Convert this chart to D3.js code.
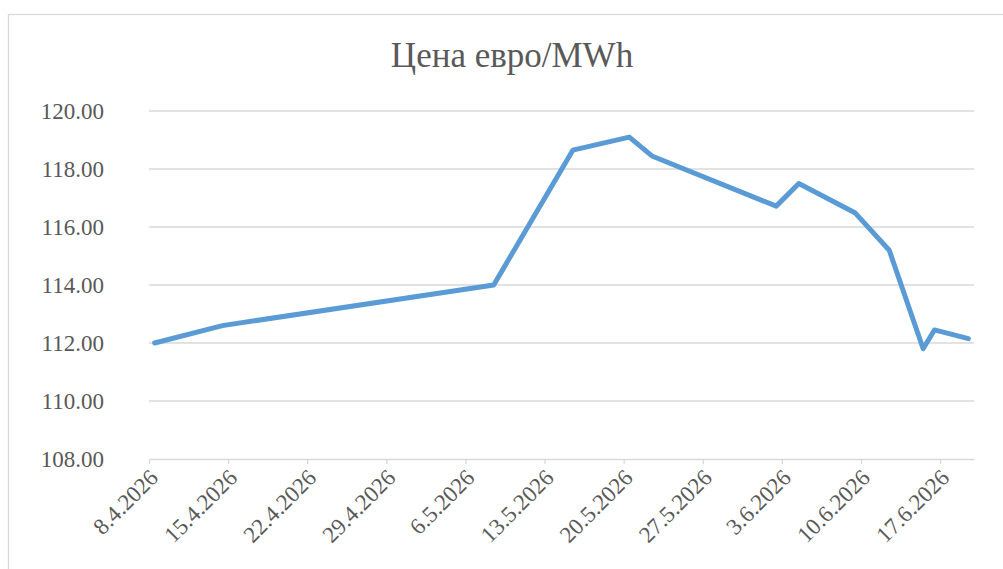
<!DOCTYPE html>
<html>
<head>
<meta charset="utf-8">
<script src="https://cdn.jsdelivr.net/npm/d3@7"></script>
<style>
body{margin:0;background:#fff;}
</style>
</head>
<body>
<div id="chart"></div>
<script>
// price data
let dates=["8.4.2026","14.4.2026","8.5.2026","15.5.2026","20.5.2026","22.5.2026","2.6.2026","4.6.2026","9.6.2026","12.6.2026","15.6.2026","16.6.2026","19.6.2026"];
let prices=[112.0,112.6,114.0,118.65,119.1,118.45,116.72,117.5,116.48,115.2,111.8,112.45,112.15];
let yTicks=[108,110,112,114,116,118,120];
let title="Цена евро/MWh";

let width=1003, height=569;
let plotLeft=149, plotRight=974, plotTop=111, plotBottom=459;
let serif="'Liberation Serif', 'Times New Roman', 'DejaVu Serif', serif";

function parseDate(s){
    let p=s.split(".");
    return new Date(Date.UTC(+p[2],+p[1]-1,+p[0]));
}

let data=dates.map(function(d,i){ return {date:parseDate(d),value:prices[i]}; });

let start=parseDate("8.4.2026");
let end=parseDate("20.6.2026");

let svg=d3.select("#chart").append("svg")
.attr("width",width)
.attr("height",height);

// chart border
svg.append("rect")
.attr("x",8.5).attr("y",14.5)
.attr("width",width).attr("height",height)
.attr("fill","#fff").attr("stroke","#d9d9d9").attr("stroke-width",1.3);

let x=d3.scaleUtc().domain([start,end]).range([plotLeft,plotRight]);
let y=d3.scaleLinear().domain([108,120]).range([plotBottom,plotTop]);

svg.append("text").text(title)
.attr("x",512).attr("y",67)
.attr("text-anchor","middle")
.attr("fill","#595959")
.style("font-family",serif)
.style("font-size","35px");

// gridlines
svg.append("g").selectAll("line")
.data(yTicks.slice(1))
.enter().append("line")
.attr("x1",plotLeft).attr("x2",plotRight)
.attr("y1",function(d){return y(d);}).attr("y2",function(d){return y(d);})
.attr("stroke","#d9d9d9").attr("stroke-width",1.3);

let yAxis=d3.axisLeft(y).tickValues(yTicks).tickFormat(d3.format(".2f")).tickSize(0).tickPadding(45);
let yg=svg.append("g").attr("transform","translate("+plotLeft+",0)").call(yAxis);
yg.select(".domain").remove();
yg.selectAll("text")
.attr("fill","#595959")
.style("font-family",serif)
.style("font-size","23px");

let xTicks=d3.utcDay.range(start,end,7);
let xAxis=d3.axisBottom(x).tickValues(xTicks).tickFormat(d3.utcFormat("%-d.%-m.%Y")).tickSizeInner(5).tickSizeOuter(0);
let xg=svg.append("g").attr("transform","translate(0,"+plotBottom+")").call(xAxis);
xg.select(".domain").attr("stroke","#d9d9d9").attr("stroke-width",1.3);
xg.selectAll(".tick line").attr("stroke","#d9d9d9").attr("stroke-width",1.3);
xg.selectAll(".tick text")
.attr("y",0).attr("dy",0)
.attr("text-anchor","end")
.attr("transform","translate(10,20) rotate(-45)")
.attr("fill","#595959")
.style("font-family",serif)
.style("font-size","23px");

// points sit in the middle of their day
let line=d3.line()
.x(function(d){return x(d3.utcHour.offset(d.date,12));})
.y(function(d){return y(d.value);});

svg.append("path")
.datum(data)
.attr("d",line)
.attr("fill","none")
.attr("stroke","#5b9bd5")
.attr("stroke-width",5)
.attr("stroke-linejoin","round")
.attr("stroke-linecap","round");
</script>
</body>
</html>
